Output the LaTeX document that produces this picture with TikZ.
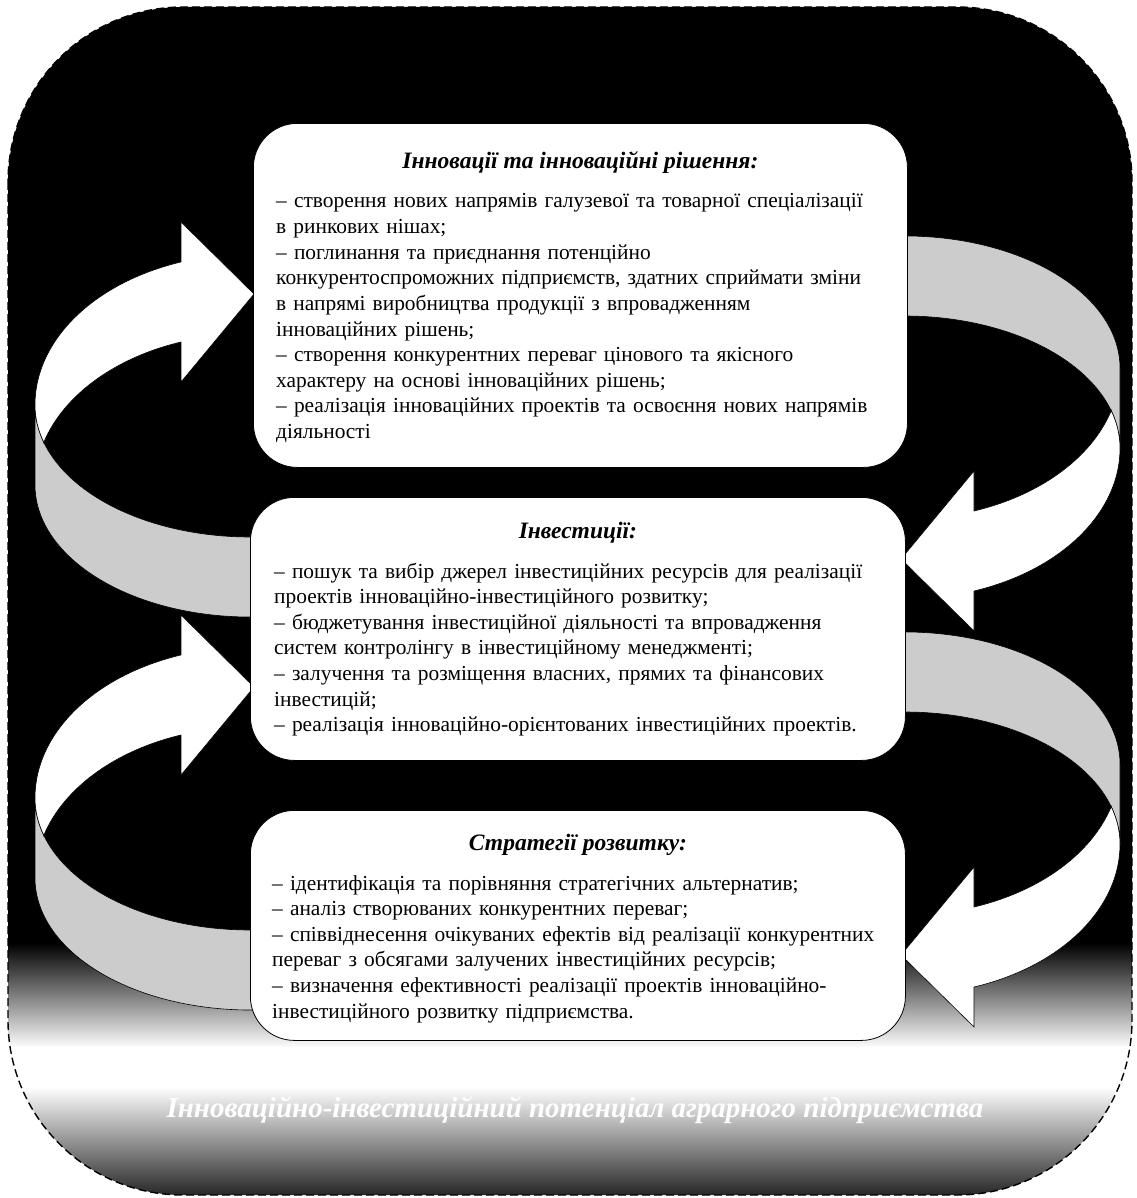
\documentclass[tikz,border=0pt]{standalone}
\usepackage{fontspec}
\setmainfont{Liberation Serif}
\usepackage{tikz}
\usetikzlibrary{positioning}

\begin{document}
\begin{tikzpicture}[x=1pt,y=1pt,
    info box/.style={draw=black,fill=white,rounded corners=44pt,line width=0.8pt,anchor=north west,inner sep=0pt},
    head text/.style={anchor=base,inner sep=0pt,font=\fontsize{23.5}{28}\selectfont\bfseries\itshape},
    body text/.style={anchor=base west,inner sep=0pt,align=left,text width=640pt,font=\fontsize{21.4}{25.6}\selectfont},
    band/.style={fill=black!20,draw=black,line width=0.6pt},
    arrow face/.style={fill=white,draw=black,line width=0.6pt}]
  \useasboundingbox (0,0) rectangle (1136,-1198);

  % background
  \begin{scope}
    \clip[rounded corners=175pt] (8,-7) rectangle (1132,-1195);
    \fill[black] (0,1) rectangle (1136,-944);
    \shade[top color=black,bottom color=white] (0,-943) rectangle (1136,-1048);
    \fill[white] (0,-1047) rectangle (1136,-1088);
    \shade[top color=white,bottom color=black!88] (0,-1087) rectangle (1136,-1199);
  \end{scope}
  \draw[dash pattern=on 8pt off 4pt,rounded corners=175pt,line width=1.4pt] (8,-7) rectangle (1132,-1195);

  % curved ribbons
  \foreach \cx/\cy/\rot in {250/-405/0, 250/-798/0, 905/-448/180, 905/-844/180} {
    \begin{scope}[shift={(\cx,\cy)},rotate=\rot]
      \draw[band] (-215,0) arc[start angle=180,end angle=276,x radius=215,y radius=132]
        -- ++(0,-80) arc[start angle=276,end angle=180,x radius=215,y radius=132] -- cycle;
      \draw[arrow face] (196.4:215 and 132) arc[start angle=196.4,end angle=180,x radius=215,y radius=132]
        arc[start angle=180,end angle=108.72,x radius=215,y radius=151]
        -- (-69,183) -- (4,111) -- (-69,23) -- (-69,63)
        arc[start angle=108.72,end angle=163.6,x radius=215,y radius=151] -- cycle;
    \end{scope}
  }

  % boxes
  \node[info box,minimum width=654pt,minimum height=344pt] (innov) at (253,-123) {};
  \node[info box,minimum width=655pt,minimum height=263pt] (invest) at (250,-497) {};
  \node[info box,minimum width=655pt,minimum height=230pt] (strat) at (250,-810) {};

  \node[head text] (innov head) at ([yshift=-46pt]innov.north) {Інновації та інноваційні рішення:};
  \node[body text] (innov body) at ([xshift=23pt,yshift=-85pt]innov.north west) {%
    – створення нових напрямів галузевої та товарної спеціалізації\\
    в ринкових нішах;\\
    – поглинання та приєднання потенційно\\
    конкурентоспроможних підприємств, здатних сприймати зміни\\
    в напрямі виробництва продукції з впровадженням\\
    інноваційних рішень;\\
    – створення конкурентних переваг цінового та якісного\\
    характеру на основі інноваційних рішень;\\
    – реалізація інноваційних проектів та освоєння нових напрямів\\
    діяльності};

  \node[head text] (invest head) at ([yshift=-41pt]invest.north) {Інвестиції:};
  \node[body text] (invest body) at ([xshift=24pt,yshift=-81pt]invest.north west) {%
    – пошук та вибір джерел інвестиційних ресурсів для реалізації\\
    проектів інноваційно-інвестиційного розвитку;\\
    – бюджетування інвестиційної діяльності та впровадження\\
    систем контролінгу в інвестиційному менеджменті;\\
    – залучення та розміщення власних, прямих та фінансових\\
    інвестицій;\\
    – реалізація інноваційно-орієнтованих інвестиційних проектів.};

  \node[head text] (strat head) at ([yshift=-40pt]strat.north) {Стратегії розвитку:};
  \node[body text] (strat body) at ([xshift=22pt,yshift=-80pt]strat.north west) {%
    – ідентифікація та порівняння стратегічних альтернатив;\\
    – аналіз створюваних конкурентних переваг;\\
    – співвіднесення очікуваних ефектів від реалізації конкурентних\\
    переваг з обсягами залучених інвестиційних ресурсів;\\
    – визначення ефективності реалізації проектів інноваційно-\\
    інвестиційного розвитку підприємства.};

  \node[anchor=base,inner sep=0pt,text=white,font=\fontsize{29}{33}\selectfont\bfseries\itshape] (potential) at (575,-1117)
    {Інноваційно-інвестиційний потенціал аграрного підприємства};
\end{tikzpicture}
\end{document}
